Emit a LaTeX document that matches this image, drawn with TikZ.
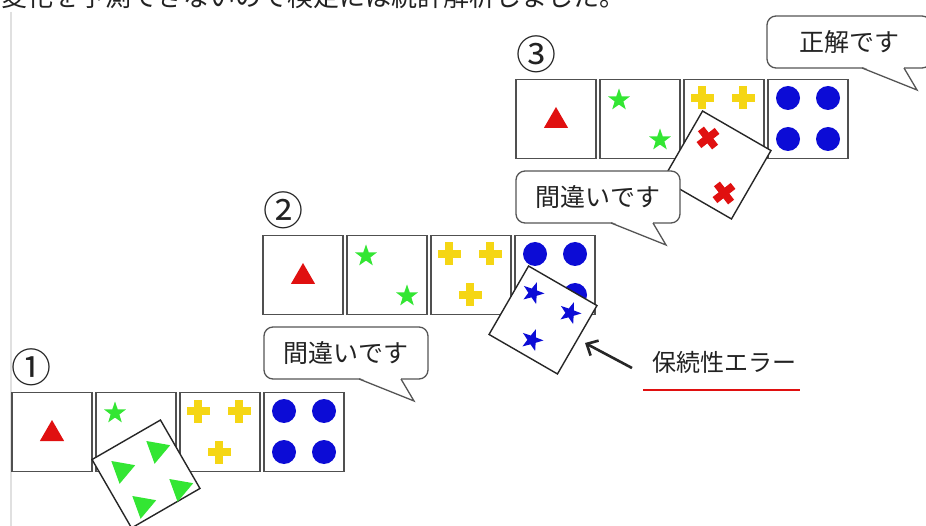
\documentclass[tikz,border=0pt]{standalone}
\usepackage{fontspec}
\newfontfamily\jp{Noto Sans CJK JP}
\usetikzlibrary{shapes.geometric,arrows.meta}
\definecolor{cardline}{HTML}{505050}
\definecolor{sgreen}{HTML}{33E633}
\definecolor{cyellow}{HTML}{F5D614}
\definecolor{dblue}{HTML}{0C0CD6}
\definecolor{tred}{HTML}{E01010}
\definecolor{txt}{HTML}{222222}
\definecolor{bline}{HTML}{555555}
\tikzset{
  card/.style={draw=cardline, line width=1.7pt, fill=white, minimum width=80pt, minimum height=79pt, inner sep=0pt, outer sep=0pt},
  rcard/.style={draw=black!85, line width=1.4pt, fill=white, minimum size=79pt, inner sep=0pt, outer sep=0pt},
  starmark/.style={star, star points=5, star point ratio=2.5, minimum size=23pt, inner sep=0pt},
  dotmark/.style={circle, fill=dblue, minimum size=24pt, inner sep=0pt},
  trimark/.style={regular polygon, regular polygon sides=3, minimum size=28pt, inner sep=0pt},
  plusmark/.pic={\fill (-11.5,-3.8) rectangle (11.5,3.8); \fill (-3.8,-11.5) rectangle (3.8,11.5);},
  rtri/.pic={\fill (13.2,-4.8) -- (-10.7,-9) -- (-2.4,13.8) -- cycle;},
  bubble/.style={draw=bline, line width=1.3pt, fill=white, rounded corners=9pt, minimum width=164pt, minimum height=52pt, inner sep=0pt, outer sep=0pt, text=txt, font=\jp\fontsize{25}{25}\selectfont},
  bubbleline/.style={draw=bline, line width=1.3pt, line join=miter},
  numlabel/.style={font=\jp\fontsize{40}{40}\selectfont, text=txt, inner sep=0pt},
  errarrow/.style={-{Straight Barb[length=9pt,width=17pt]}, line width=2.6pt, black!85}
}
\newcommand\calltail[1]{%
  \fill[white] ([xshift=95.5pt,yshift=1.2pt]#1.south west) -- ([xshift=150pt,yshift=-22pt]#1.south west) -- ([xshift=136.5pt,yshift=1.2pt]#1.south west) -- cycle;
  \draw[bubbleline] ([xshift=95pt]#1.south west) -- ([xshift=150pt,yshift=-22pt]#1.south west) -- ([xshift=137pt]#1.south west);
}
\begin{document}
\begin{tikzpicture}[x=1pt,y=-1pt]
\useasboundingbox (0,0) rectangle (926,526);
\fill[white] (0,0) rectangle (926,526);
% cut-off heading line
\node[anchor=base west, inner sep=0pt, text=txt, font=\jp\fontsize{26}{26}\selectfont] (head) at (1,7) {変化を予測できないので検定には統計解析しました。};
% faint frame line
\draw[black!12, line width=1.5pt] (11,12) -- (11,526);

\foreach \g/\gx/\gy in {1/12/392, 2/263/235, 3/516/79} {
  \node[numlabel] (n\g) at (\gx+20,\gy-25) {\ifcase\g\or ①\or ②\or ③\fi};
  \node[card] (g\g c1) at (\gx+40,\gy+40) {};
  \node[card] (g\g c2) at (\gx+124,\gy+40) {};
  \node[card] (g\g c3) at (\gx+208,\gy+40) {};
  \node[card] (g\g c4) at (\gx+292,\gy+40) {};
  \node[trimark, fill=tred] (g\g t) at (\gx+40,\gy+42) {};
  \node[starmark, fill=sgreen] (g\g sa) at (\gx+103,\gy+21) {};
  \node[starmark, fill=sgreen] (g\g sb) at (\gx+144,\gy+61) {};
  \pic[fill=cyellow] at (\gx+186,\gy+19) {plusmark};
  \pic[fill=cyellow] at (\gx+227,\gy+19) {plusmark};
  \pic[fill=cyellow] at (\gx+207,\gy+60) {plusmark};
  \node[dotmark] (g\g da) at (\gx+272,\gy+19) {};
  \node[dotmark] (g\g db) at (\gx+312,\gy+19) {};
  \node[dotmark] (g\g dc) at (\gx+272,\gy+60) {};
  \node[dotmark] (g\g dd) at (\gx+312,\gy+60) {};
}

% rotated card 1 (green triangles)
\node[rcard, rotate=30] (r1) at (146,474) {};
\foreach \px/\py in {122/470, 157/450, 180/488, 143/505}
  \pic[fill=sgreen] at (\px,\py) {rtri};

% rotated card 2 (blue stars)
\node[rcard, rotate=-30] (r2) at (543,320) {};
\foreach \px/\py in {533/293, 570/313, 532/340}
  \node[starmark, fill=dblue, rotate=-20] at (\px,\py) {};

% rotated card 3 (red crosses)
\node[rcard, rotate=-30] (r3) at (717,165) {};
\pic[fill=tred, rotate=38] at (708,138) {plusmark};
\pic[fill=tred, rotate=38] at (724,193) {plusmark};

% speech bubbles
\node[bubble] (b1) at (849,42) {正解です};
\calltail{b1}
\node[bubble] (b3) at (598,197) {間違いです};
\calltail{b3}
\node[bubble] (b2) at (346,353) {間違いです};
\calltail{b2}

% perseveration error label
\node[inner sep=0pt, text=txt, font=\jp\fontsize{24}{24}\selectfont] (perr) at (724,362) {保続性エラー};
\draw[tred, line width=2.5pt] (643,390) -- (800,390);
\coordinate (arrtail) at (632,368);
\coordinate (arrtip) at (585,343);
\draw[errarrow] (arrtail) -- (arrtip);
\end{tikzpicture}
\end{document}
